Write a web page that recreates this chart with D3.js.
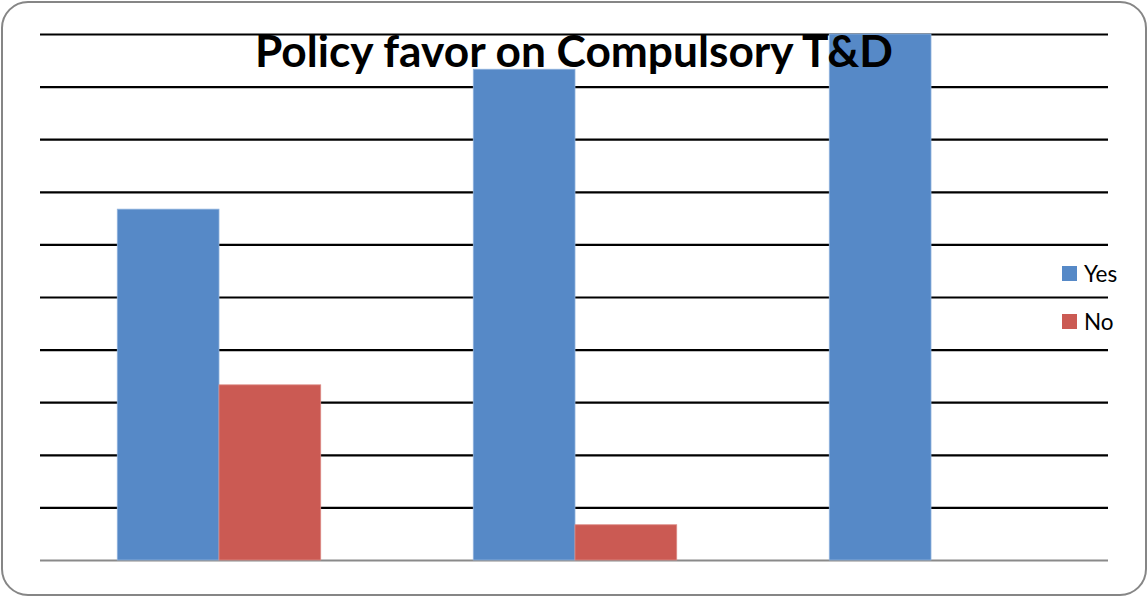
<!DOCTYPE html>
<html>
<head>
<meta charset="utf-8">
<script src="https://cdn.jsdelivr.net/npm/d3@7"></script>
<style>
  html, body { margin: 0; padding: 0; background: #fff; }
  svg { display: block; }
</style>
</head>
<body>
<svg id="chart" width="1148" height="598"></svg>
<script>
// Survey responses (percent) on compulsory training & development policy
const categories = ["Group 1", "Group 2", "Group 3"];
const seriesNames = ["Yes", "No"];
const yesValues = [66.7, 93.3, 100];
const noValues = [33.3, 6.7, 0];
const yTicks = [0, 10, 20, 30, 40, 50, 60, 70, 80, 90, 100];
const colors = { Yes: "#5689C7", No: "#CB5A53" };

const svg = d3.select("#chart");
const W = 1148, H = 598;
const plot = { left: 40, right: 1108, top: 34, bottom: 560 };

// Outer chart frame
svg.append("rect")
  .attr("x", 2).attr("y", 2)
  .attr("width", W - 4).attr("height", H - 5)
  .attr("rx", 26).attr("ry", 26)
  .attr("fill", "#fff")
  .attr("stroke", "#868686")
  .attr("stroke-width", 2);

const x0 = d3.scaleBand()
  .domain(categories)
  .range([plot.left + 1, plot.right + 1])
  .paddingInner(0).paddingOuter(0);

// Excel-style gap width of 150%: each group = 2 bars + 1.5 bar widths of gap
const barW = x0.bandwidth() / 3.5;
const x1 = d3.scaleBand()
  .domain(seriesNames)
  .range([barW * 0.75, barW * 2.75]);

const y = d3.scaleLinear().domain([0, 100]).range([plot.bottom, plot.top]);

// Horizontal gridlines
const yAxis = d3.axisLeft(y)
  .tickValues(yTicks)
  .tickSize(-(plot.right - plot.left))
  .tickFormat("");
const gAxis = svg.append("g")
  .attr("transform", `translate(${plot.left},0)`)
  .call(yAxis);
gAxis.select(".domain").remove();
gAxis.selectAll(".tick line")
  .attr("stroke", d => d === 0 ? "#8a8a8a" : "#000")
  .attr("stroke-width", 2.2);

// Bars
const rows = categories.map((c, i) => ({ cat: c, Yes: yesValues[i], No: noValues[i] }));
const groups = svg.append("g").selectAll("g")
  .data(rows).join("g")
  .attr("transform", d => `translate(${x0(d.cat)},0)`);

groups.selectAll("rect")
  .data(d => seriesNames.map(s => ({ key: s, value: d[s] })))
  .join("rect")
  .attr("x", d => x1(d.key))
  .attr("y", d => y(d.value))
  .attr("width", x1.bandwidth())
  .attr("height", d => plot.bottom - y(d.value))
  .attr("fill", d => colors[d.key])
  .attr("stroke", d => d.key === "Yes" ? "#8fb2dd" : "#dc8a85")
  .attr("stroke-width", 0.8)
  .attr("opacity", d => d.value > 0 ? 1 : 0);

// Title
const title = svg.append("text")
  .attr("x", 574)
  .attr("y", 67)
  .attr("text-anchor", "middle")
  .attr("font-family", "Lato, 'Open Sans', sans-serif")
  .attr("font-weight", "bold")
  .attr("font-size", 42)
  .attr("fill", "#000")
  .text("Policy favor on Compulsory T&D");
const tw = title.node().getComputedTextLength();
title.attr("font-size", 42 * 638 / tw);

// Legend
const legend = svg.append("g").attr("transform", "translate(1062,266)");
seriesNames.forEach((s, i) => {
  const g = legend.append("g").attr("transform", `translate(0,${i * 48})`);
  g.append("rect")
    .attr("width", 15).attr("height", 15)
    .attr("fill", colors[s]);
  g.append("text")
    .attr("x", 22).attr("y", 15.5)
    .attr("font-family", "Lato, 'Open Sans', sans-serif")
    .attr("font-size", 22.5)
    .attr("fill", "#000")
    .text(s);
});
</script>
</body>
</html>
